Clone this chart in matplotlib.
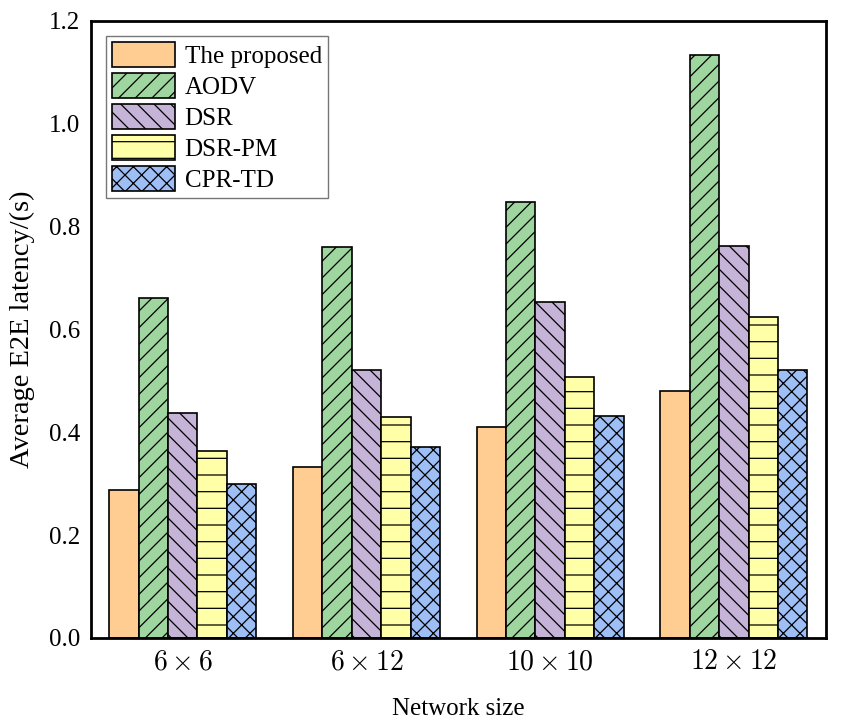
import numpy as np
import matplotlib
matplotlib.use('Agg')
import matplotlib.pyplot as plt

plt.rcParams['font.family'] = ['Liberation Serif', 'DejaVu Serif']
plt.rcParams['mathtext.fontset'] = 'cm'
plt.rcParams['hatch.linewidth'] = 0.9

# Data
sizes = ['$6\\times6$', '$6\\times12$', '$10\\times10$', '$12\\times12$']
methods = ['The proposed', 'AODV', 'DSR', 'DSR-PM', 'CPR-TD']
proposed = [0.288, 0.332, 0.411, 0.480]
aodv = [0.662, 0.760, 0.847, 1.134]
dsr = [0.438, 0.521, 0.654, 0.763]
dsr_pm = [0.364, 0.429, 0.507, 0.624]
cpr_td = [0.300, 0.372, 0.431, 0.521]
yticks = [0.0, 0.2, 0.4, 0.6, 0.8, 1.0, 1.2]

series = [proposed, aodv, dsr, dsr_pm, cpr_td]
colors = ['#FFCC91', '#9FD69F', '#C5B4D7', '#FFFFA8', '#9EBEF6']
hatches = ['', '//', '\\\\', '-', 'xx']

fig = plt.figure(figsize=(8.42, 7.23), dpi=100)
ax = fig.add_axes([0.108, 0.1176, 0.8727, 0.8534])

x = np.arange(len(sizes))
w = 0.16
for i, (vals, name) in enumerate(zip(series, methods)):
    ax.bar(x + (i - 2) * w, vals, w, color=colors[i], edgecolor='black',
           linewidth=1.2, hatch=hatches[i], label=name)

ax.set_xlim(-0.5, 3.5)
ax.set_ylim(0, 1.2)
ax.set_yticks(yticks)
ax.set_yticklabels([f'{t:.1f}' for t in yticks])
ax.set_xticks(x)
ax.set_xticklabels(sizes)
ax.tick_params(axis='y', length=0, labelsize=18, pad=8)
ax.tick_params(axis='x', length=0, labelsize=20, pad=9)
for s in ax.spines.values():
    s.set_linewidth(2)

ax.set_xlabel('Network size', fontsize=18, labelpad=16)
ax.set_ylabel('Average E2E latency/(s)', fontsize=20.5, labelpad=10)

leg = ax.legend(loc='upper left', fontsize=18, frameon=True, fancybox=False,
                edgecolor='#555555', handlelength=2.5, handleheight=1.15,
                handletextpad=0.4, labelspacing=0.2, borderpad=0.25,
                borderaxespad=0.6)
leg.get_frame().set_linewidth(1.0)

fig.savefig('out.png', dpi=100)
